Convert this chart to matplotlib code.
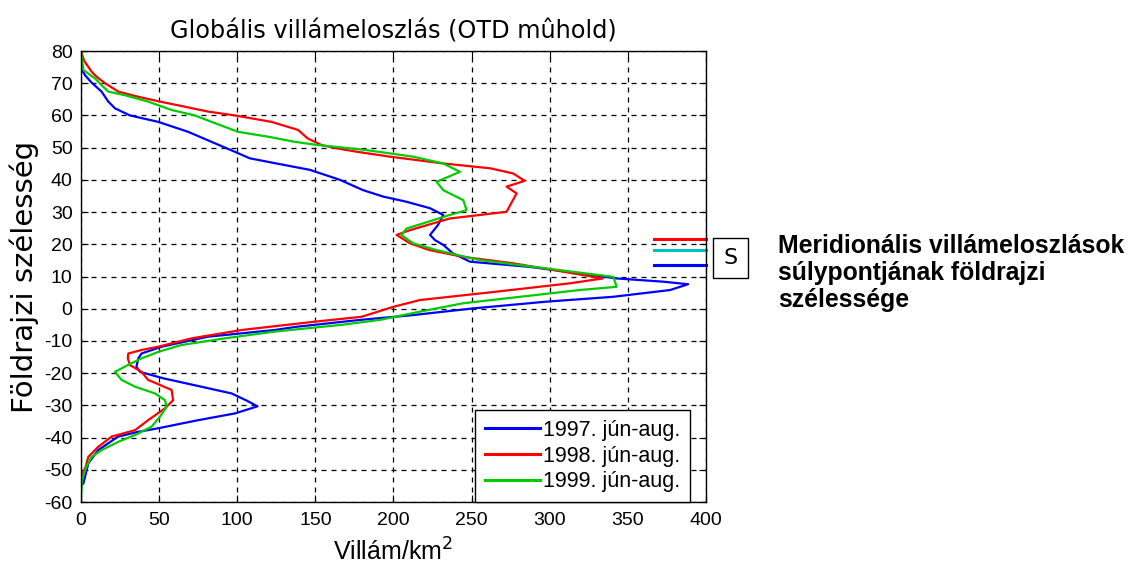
import numpy as np
import matplotlib
matplotlib.use('Agg')
import matplotlib.pyplot as plt

plt.rcParams['font.family'] = ['Liberation Sans', 'DejaVu Sans']
plt.rcParams['axes.unicode_minus'] = False

# 1997 (blue)
lat97 = [74.6, 72.5, 70.2, 67.4, 64.3, 62.2, 60.0, 58.0, 54.9, 51.8, 48.7, 46.7, 45.1, 43.1, 40.0,
         36.8, 34.8, 33.2, 31.2, 29.1, 26.0, 22.9, 21.3, 19.8, 17.2, 14.6, 13.0, 11.0, 9.4, 8.4,
         7.6, 5.8, 3.7, 2.2, 0.1, -2.0, -3.5, -5.6, -6.6, -8.7, -11.8, -13.9, -15.4, -18.0, -19.6,
         -21.6, -24.2, -26.3, -28.5, -30.3, -32.5, -34.6, -37.1, -38.2, -39.7, -43.9, -48.0, -54.2, -55.0]
val97 = [0, 2.6, 6.8, 13.2, 17.5, 21.8, 31.4, 49.5, 68.7, 83.6, 98.6, 108, 125, 146.6, 165.8,
         180.6, 193.5, 208.4, 223.4, 231.9, 228.5, 223.4, 226.6, 231.9, 238, 249, 287, 319, 342.8, 372.5,
         388.6, 377, 340.6, 298, 251, 212, 178, 138, 124, 81, 51.6, 38.8, 36.7, 35.5, 37.8,
         52.7, 77, 96.4, 106, 113, 98.6, 75, 49.5, 36.7, 23.8, 11, 4.7, 1.6, 0]

# 1998 (red)
lat98 = [80, 77, 73.6, 72, 70, 67.4, 65.8, 64.3, 62.7, 61.2, 60, 58, 55.5, 52.9, 50.8, 49.8, 48.7,
         47.2, 45.1, 43.6, 42, 39.7, 37.9, 35.8, 30.1, 28, 24.4, 22.9, 22.3, 20.3, 18.2, 16.1, 14.1,
         11.5, 9.4, 7.9, 5.3, 2.7, 0.6, -2.5, -4, -6.6, -9.2, -11.8, -12.8, -13.9, -15.4, -17.5,
         -19.6, -22.1, -25.2, -28.4, -30.9, -34.6, -37.7, -39.7, -42.9, -46, -49.1, -52.2]
val98 = [0, 2, 6.8, 10, 15.4, 23.9, 36.6, 50.6, 66.6, 81.4, 98.6, 122, 139, 145, 154, 163.6, 177,
         197.8, 231.8, 261.8, 276.6, 284, 272.4, 278.8, 272.4, 236, 210.6, 202, 204, 210.6, 223, 244.6, 276.6,
         308.6, 334, 313, 266, 217, 200, 179.6, 150, 102.8, 70.8, 49.4, 38.8, 30.3, 30, 31.4,
         38.8, 43, 58, 59, 53.8, 43, 34.6, 19.6, 11, 4.7, 3, 0]

# 1999 (green)
lat99 = [80, 74.1, 71.5, 69.4, 67.4, 66.3, 64.3, 61.7, 60, 58, 54.9, 53.4, 51.8, 50.8, 49.3, 47.2,
         45.1, 42.5, 39.4, 36.8, 33.7, 30.6, 29.1, 26.5, 24.9, 22.9, 20.3, 18.2, 15.1, 12.5, 9.9,
         6.8, 5.8, 3.7, 1.7, -0.9, -3.5, -5.0, -7.1, -9.2, -11.3, -13.4, -15.4, -17.5, -19.6, -22.1,
         -24.2, -26.3, -28.4, -30.4, -33.5, -36.6, -39.2, -41.3, -43.9, -46, -49.1, -53, -60]
val99 = [0, 1.5, 9, 13.2, 17.5, 28, 43, 58, 73, 83.6, 100.7, 119.9, 137, 151.9, 182, 212.6,
         231.8, 242.6, 227.6, 231.9, 244.7, 246.8, 236, 219, 208.4, 205, 212.6, 227.6, 255, 298, 340.7,
         342.8, 319, 281, 244.7, 217, 191, 166.8, 124, 92, 64, 49.5, 38.8, 30, 21.8, 26,
         34.6, 47.4, 53.8, 54.8, 50.6, 45.2, 34.6, 24, 13.2, 6.8, 3.4, 0.6, 0]

labels = ['1997. jún-aug.', '1998. jún-aug.', '1999. jún-aug.']
colors = ['#0000ff', '#ff0000', '#00cc00']

# centre-of-mass latitudes (marks at the right edge)
cm_lat = [21.5, 18.1, 13.7]
cm_colors = ['#ff0000', '#00c0c0', '#0000ff']

fig = plt.figure(figsize=(11.29, 5.65), dpi=100)
ax = fig.add_axes([0.0717, 0.1115, 0.5536, 0.7982])

for v, l, c, lab in zip([val97, val98, val99], [lat97, lat98, lat99], colors, labels):
    ax.plot(v, l, color=c, lw=1.6, label=lab)

for lt, c in zip(cm_lat, cm_colors):
    ax.plot([367, 400], [lt, lt], color=c, lw=2.2, clip_on=False)

ax.set_xlim(0, 400)
ax.set_ylim(-60, 80)
ax.set_xticks(np.arange(0, 401, 50))
ax.set_yticks(np.arange(-60, 81, 10))
ax.grid(True, color='k', linestyle=(0, (4, 4)), lw=0.9)
ax.tick_params(direction='in', top=True, right=True, labelsize=14, length=5)
ax.tick_params(axis='x', pad=7)
ax.tick_params(axis='y', pad=6)
for s in ax.spines.values():
    s.set_linewidth(1.0)

ax.set_title('Globális villámeloszlás (OTD mûhold)', fontsize=17.3, family='DejaVu Sans', pad=9)
ax.set_xlabel('Villám/km$^2$', fontsize=18, labelpad=7)
ax.set_ylabel('Földrajzi szélesség', fontsize=21, family='DejaVu Sans', labelpad=4)

leg = ax.legend(loc='lower right', bbox_to_anchor=(0.974, 0.0), borderaxespad=0,
                fontsize=15.5, fancybox=False, framealpha=1, edgecolor='k',
                handlelength=2.6, handletextpad=0.1, labelspacing=0.22, borderpad=0.45)
leg.get_frame().set_linewidth(1.0)
for h in leg.get_lines():
    h.set_linewidth(2.2)

fig.text(0.647, 0.543, 'S', fontsize=16, family='DejaVu Sans',
         ha='center', va='center',
         bbox=dict(boxstyle='square,pad=0.45', fc='white', ec='k', lw=1))
fig.text(0.689, 0.517, 'Meridionális villámeloszlások\nsúlypontjának földrajzi\nszélessége',
         fontsize=17.8, fontweight='bold', ha='left', va='center', linespacing=1.15)

fig.savefig('out.png', dpi=100)
